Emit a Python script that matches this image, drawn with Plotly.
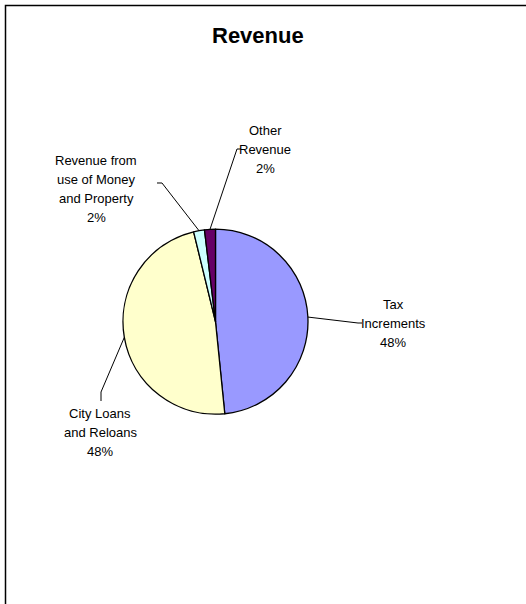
import math
import plotly.graph_objects as go

# Revenue shares by source
categories = ["Tax Increments", "City Loans and Reloans",
              "Revenue from use of Money and Property", "Other Revenue"]
label_lines = [["Tax", "Increments"], ["City Loans", "and Reloans"],
               ["Revenue from", "use of Money", "and Property"], ["Other", "Revenue"]]
values = [48.4, 47.8, 1.9, 1.9]
colors = ["#9999FF", "#FFFFCC", "#CCFFFF", "#660066"]

W, H = 526, 604
CX, CY, R = 215.5, 321.7, 92.5   # pie centre and radius in pixels
LINE_H = 19.0                    # label line pitch in pixels
FONT = "Arial, Liberation Sans"


def px(x):
    return x / W


def py(y):
    return 1 - y / H


fig = go.Figure(go.Pie(
    labels=categories,
    values=values,
    sort=False,
    direction="clockwise",
    rotation=0,
    marker=dict(colors=colors, line=dict(color="black", width=1.3)),
    textinfo="none",
    showlegend=False,
    domain=dict(x=[px(CX - R), px(CX + R)], y=[py(CY + R), py(CY - R)]),
))

# label block centres and the elbow where each leader line meets its text
label_pos = [(393, 323), (100, 432), (96, 189), (265, 149)]
elbows = [[(358, 323), (362, 323)],
          [(101, 392), (101, 401)],
          [(162, 183), (157, 183)],
          [(237, 149), (241, 149)]]

total = sum(values)
start = 0.0
shapes = []
annotations = []
for i, v in enumerate(values):
    span = 360.0 * v / total
    mid = math.radians(start + span / 2)
    start += span
    ex = CX + R * math.sin(mid)
    ey = CY - R * math.cos(mid)
    pts = [(ex, ey)] + elbows[i]
    path = "M " + " L ".join(f"{px(x):.5f},{py(y):.5f}" for x, y in pts)
    shapes.append(dict(type="path", path=path, xref="paper", yref="paper",
                       line=dict(color="black", width=1)))
    pct = f"{round(v / total * 100)}%"
    lines = label_lines[i] + [pct]
    lx, ly = label_pos[i]
    top = ly - LINE_H * (len(lines) - 1) / 2
    for k, line in enumerate(lines):
        annotations.append(dict(x=px(lx), y=py(top + k * LINE_H), xref="paper", yref="paper",
                                text=line, showarrow=False, align="center",
                                xanchor="center", yanchor="middle",
                                font=dict(family=FONT, size=13, color="black")))

# chart frame (top and left edges; the rest runs off the page)
shapes.append(dict(type="path", xref="paper", yref="paper",
                   path=f"M {px(5.5):.5f},0 L {px(5.5):.5f},{py(5.5):.5f} L 1,{py(5.5):.5f}",
                   line=dict(color="black", width=1.5)))

annotations.append(dict(x=px(258), y=py(35), xref="paper", yref="paper",
                        text="<b>Revenue</b>", showarrow=False,
                        xanchor="center", yanchor="middle",
                        font=dict(family=FONT, size=22, color="black")))

fig.update_layout(
    width=W, height=H,
    margin=dict(l=0, r=0, t=0, b=0),
    paper_bgcolor="white",
    plot_bgcolor="white",
    shapes=shapes,
    annotations=annotations,
)

fig.write_html("out.html")
